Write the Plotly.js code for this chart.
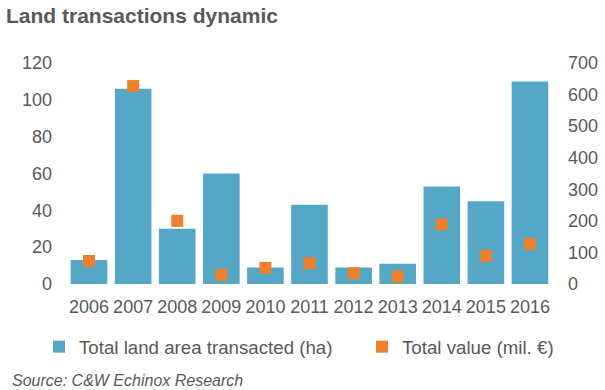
<!DOCTYPE html>
<html>
<head>
<meta charset="utf-8">
<script src="https://cdn.plot.ly/plotly-3.0.1.min.js"></script>
<style>html,body{margin:0;padding:0;background:#fff;}#chart{width:605px;height:390px;}</style>
</head>
<body>
<div id="chart"></div>
<script>
const years = ['2006','2007','2008','2009','2010','2011','2012','2013','2014','2015','2016'];
const landArea = [13, 106, 30, 60, 9, 43, 9, 11, 53, 45, 110];
const totalValue = [73, 627, 200, 29, 51, 66, 34, 24, 189, 89, 127];
const seriesNames = ['Total land area transacted (ha)', 'Total value (mil. €)'];

const W = 605, H = 390;
const mL = 67, mR = 53, mT = 63, mB = 106;
const pw = W - mL - mR, ph = H - mT - mB;
const font = 'Liberation Sans, Arial, sans-serif';
const grey = '#595959';

const traces = [
  {type: 'bar', x: years, y: landArea, name: seriesNames[0], legend: 'legend',
   marker: {color: '#55A8C5'}, yaxis: 'y', hoverinfo: 'x+y'},
  {type: 'scatter', mode: 'markers', x: years, y: totalValue, name: seriesNames[1], legend: 'legend2',
   marker: {color: '#EE7F2D', symbol: 'square', size: 12}, yaxis: 'y2'}
];

const legendBase = {orientation: 'h', xref: 'container', xanchor: 'left',
  y: 1 - 347 / H, yref: 'container', yanchor: 'middle', indentation: -12,
  font: {size: 18.7, color: grey}, bgcolor: 'rgba(0,0,0,0)'};

const layout = {
  width: W, height: H,
  margin: {l: mL, r: mR, t: mT, b: mB, pad: 0, autoexpand: false},
  paper_bgcolor: '#fff', plot_bgcolor: '#fff',
  font: {family: font, color: grey, size: 18},
  bargap: 0.17,
  showlegend: true,
  title: {text: 'Land transactions dynamic', x: 6 / W, xanchor: 'left', xref: 'container',
          y: 1 - 16 / H, yanchor: 'middle', yref: 'container', automargin: false,
          font: {family: font, size: 21, color: grey, weight: 'bold'}},
  xaxis: {type: 'category', range: [-0.5, 10.5], showgrid: false, zeroline: false, showline: false, ticks: '',
          automargin: false, tickfont: {size: 18, color: grey}, ticklabelstandoff: 10},
  yaxis: {range: [0, 120], dtick: 20, showgrid: false, zeroline: false, showline: false,
          automargin: false, ticks: '', tickfont: {size: 18, color: grey}, ticklabelstandoff: 14},
  yaxis2: {range: [0, 700], dtick: 100, overlaying: 'y', side: 'right', showgrid: false,
           automargin: false, zeroline: false, showline: false, ticks: '',
           tickfont: {size: 18, color: grey}, ticklabelstandoff: 15},
  legend: Object.assign({}, legendBase, {x: 51 / W}),
  legend2: Object.assign({}, legendBase, {x: 374 / W}),
  annotations: [{text: 'Source: C&W Echinox Research', xref: 'paper', yref: 'paper',
                 x: (9.5 - mL) / pw, y: (mT + ph - 380) / ph, xanchor: 'left', yanchor: 'middle',
                 showarrow: false, font: {family: font, size: 16, color: grey, style: 'italic'}}]
};

Plotly.newPlot('chart', traces, layout, {displayModeBar: false, staticPlot: true});
</script>
</body>
</html>
